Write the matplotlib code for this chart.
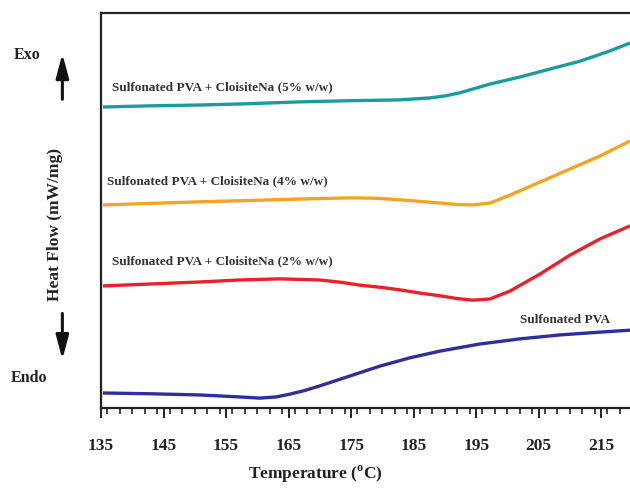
import matplotlib
matplotlib.use("Agg")
import matplotlib.pyplot as plt
from matplotlib.patches import FancyArrowPatch
from matplotlib.ticker import MultipleLocator

plt.rcParams['font.family'] = ['Liberation Serif', 'DejaVu Serif']
plt.rcParams['mathtext.fontset'] = 'custom'
plt.rcParams['mathtext.rm'] = 'Liberation Serif:bold'

# DSC traces: temperature (°C) vs heat flow (arbitrary offset units)
t_5 = [135.3, 143, 150.8, 158, 166.8, 175, 182.8, 187.6, 190, 192.4, 197.2, 202.0, 206.8, 211.6, 216.4, 219.6]
hf_5 = [76.2, 76.5, 76.7, 77.0, 77.5, 77.8, 78.0, 78.5, 79.0, 79.8, 82.0, 83.8, 85.8, 87.8, 90.4, 92.4]

t_4 = [135.3, 143, 150.8, 158, 166.8, 174.8, 179, 182.8, 186, 189.2, 192, 194.5, 197.2, 200.4, 205.2, 210.0, 214.8, 219.6]
hf_4 = [51.4, 51.8, 52.2, 52.5, 52.9, 53.2, 53.1, 52.7, 52.3, 51.9, 51.5, 51.4, 51.9, 53.9, 57.2, 60.5, 63.8, 67.6]

t_2 = [135.3, 143, 150.8, 157, 163.6, 170.0, 173.5, 176.4, 180, 182.8, 186, 189.2, 192, 194.5, 197.2, 200.4, 205.2, 210.0, 214.8, 219.6]
hf_2 = [30.9, 31.4, 31.9, 32.4, 32.7, 32.4, 31.8, 31.1, 30.5, 29.9, 29.1, 28.4, 27.7, 27.3, 27.6, 29.6, 33.9, 38.7, 42.8, 46.1]

t_0 = [135.3, 143, 150.8, 157.2, 160.4, 163, 165.2, 167.5, 170.0, 174.8, 179.6, 184.4, 189.2, 195.6, 202.0, 208.4, 214.8, 219.6]
hf_0 = [3.8, 3.6, 3.3, 2.8, 2.5, 2.8, 3.5, 4.4, 5.6, 8.1, 10.6, 12.7, 14.4, 16.2, 17.5, 18.5, 19.2, 19.7]

x_ticks = [135, 145, 155, 165, 175, 185, 195, 205, 215]

fig = plt.figure(figsize=(6.30, 4.89), dpi=100)
ax = fig.add_axes([0.1603, 0.1636, 0.8397, 0.8078])

lw = 2.4
ax.plot(t_5, hf_5, color='#1b9c9c', lw=lw, solid_capstyle='butt')
ax.plot(t_4, hf_4, color='#f4a422', lw=lw, solid_capstyle='butt')
ax.plot(t_2, hf_2, color='#e8212b', lw=lw, solid_capstyle='butt')
ax.plot(t_0, hf_0, color='#2f2f9c', lw=lw, solid_capstyle='butt')

ax.set_xlim(135, 219.6)
ax.set_ylim(0, 100)

lab = dict(fontsize=9.5, fontweight='bold', color='#333333')
ax.text(136.8, 80.6, 'Sulfonated PVA + CloisiteNa (5% w/w)', **lab)
ax.text(136.0, 56.8, 'Sulfonated PVA + CloisiteNa (4% w/w)', **lab)
ax.text(136.8, 36.6, 'Sulfonated PVA + CloisiteNa (2% w/w)', **lab)
ax.text(202.0, 21.8, 'Sulfonated PVA', **lab)

ax.spines['right'].set_visible(False)
for s in ('left', 'top', 'bottom'):
    ax.spines[s].set_linewidth(1.6)
    ax.spines[s].set_color('#222222')

ax.set_yticks([])
ax.set_xticks(x_ticks)
ax.xaxis.set_minor_locator(MultipleLocator(2))
ax.tick_params(axis='x', which='major', direction='out', length=7, width=1.4,
               colors='#222222', labelsize=12.5, pad=14)
ax.tick_params(axis='x', which='minor', direction='out', length=4.5, width=1.2,
               colors='#222222')
for t in ax.get_xticklabels():
    t.set_fontweight('bold')

fig.text(0.5, 0.008, 'Temperature ($^{\\mathrm{o}}$C)', ha='center', va='bottom',
         fontsize=12.5, fontweight='bold', color='#222222')
fig.text(0.088, 0.54, 'Heat Flow (mW/mg)', rotation=90, ha='center', va='center',
         fontsize=12.5, fontweight='bold', color='#222222')

fig.text(0.043, 0.887, 'Exo', ha='center', va='center', fontsize=11.5,
         fontweight='bold', color='#222222')
fig.text(0.046, 0.227, 'Endo', ha='center', va='center', fontsize=11.5,
         fontweight='bold', color='#222222')

arrow = dict(arrowstyle='-|>,head_length=1.2,head_width=0.32', color='#111111',
             lw=2.2, mutation_scale=12, shrinkA=0, shrinkB=0)
fig.add_artist(FancyArrowPatch((0.099, 0.795), (0.099, 0.888),
               transform=fig.transFigure, **arrow))
fig.add_artist(FancyArrowPatch((0.099, 0.357), (0.099, 0.263),
               transform=fig.transFigure, **arrow))

fig.savefig('out.png', dpi=100)
